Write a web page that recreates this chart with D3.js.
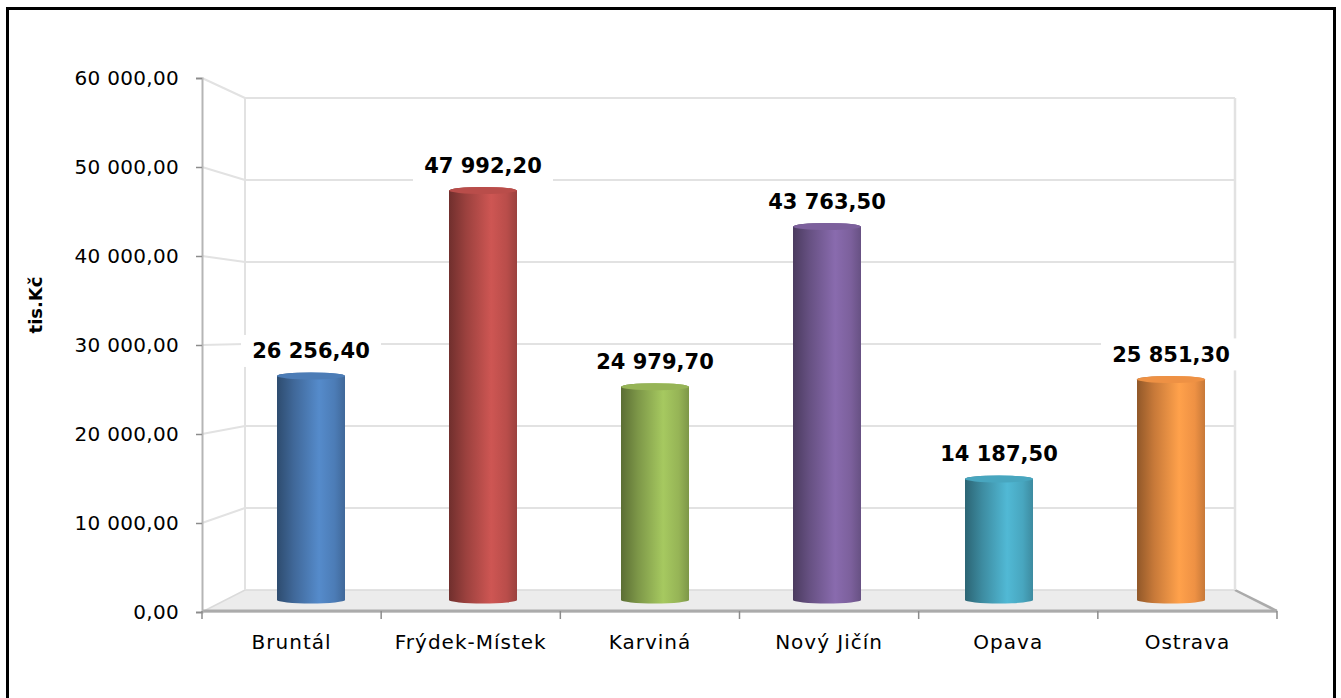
<!DOCTYPE html>
<html>
<head>
<meta charset="utf-8">
<title>tis.Kč podle okresů</title>
<script src="https://cdn.jsdelivr.net/npm/d3@7"></script>
<style>
body { margin: 0; background: #fff; }
svg text { font-family: "DejaVu Sans", sans-serif; fill: #000; }
</style>
</head>
<body>
<div id="chart"></div>
<script>
// data
var districts = ["Bruntál", "Frýdek-Místek", "Karviná", "Nový Jičín", "Opava", "Ostrava"];
var amounts = [26256.40, 47992.20, 24979.70, 43763.50, 14187.50, 25851.30];
var barColors = ["#4F81BD", "#C0504D", "#9BBB59", "#8064A2", "#4BACC6", "#F79646"];
var yTicks = [0, 10000, 20000, 30000, 40000, 50000, 60000];

var W = 1341, H = 698;
var svg = d3.select("#chart").append("svg").attr("width", W).attr("height", H);

// frame
svg.append("rect").attr("x", 7.5).attr("y", 8.5).attr("width", 1327).attr("height", 720)
  .attr("fill", "none").attr("stroke", "#000").attr("stroke-width", 3);

var fmt = function (v) {
  var s = d3.format(",.2f")(v);
  return s.replace(/,/g, " ").replace(".", ",");
};

// three depth planes: front axis, mid (bars) and back wall
var yFront = d3.scaleLinear().domain([0, 60000]).range([612, 78]);
var yBack = d3.scaleLinear().domain([0, 60000]).range([590, 98]);
var yMid = d3.scaleLinear().domain([0, 60000]).range([600, 88]);
var xFront = d3.scaleBand().domain(districts).range([202, 1277]);
var xBack = d3.scaleBand().domain(districts).range([245, 1235]);
var xMid = d3.scaleBand().domain(districts).range([225, 1257]);

var grid = "#e2e2e2";

// floor
var floorPts = [[202, 612], [245, 590], [1235, 590], [1277, 612]];
svg.append("path").attr("d", d3.line()(floorPts) + "Z")
  .attr("fill", "#ececec").attr("stroke", "#dadada").attr("stroke-width", 1.5);
svg.append("line").attr("x1", 202).attr("x2", 1277).attr("y1", 611).attr("y2", 611)
  .attr("stroke", "#ababab").attr("stroke-width", 3);
svg.append("line").attr("x1", 1235).attr("x2", 1277).attr("y1", 590).attr("y2", 611)
  .attr("stroke", "#ababab").attr("stroke-width", 2.5);

// walls
var gl = svg.append("g");
yTicks.filter(function (t) { return t > 0; }).forEach(function (t) {
  gl.append("line").attr("x1", 202).attr("y1", yFront(t)).attr("x2", 245).attr("y2", yBack(t))
    .attr("stroke", grid).attr("stroke-width", 2);
  gl.append("line").attr("x1", 245).attr("y1", yBack(t)).attr("x2", 1235).attr("y2", yBack(t))
    .attr("stroke", grid).attr("stroke-width", 2);
});
gl.append("line").attr("x1", 245).attr("x2", 245).attr("y1", yBack(60000)).attr("y2", yBack(0))
  .attr("stroke", grid).attr("stroke-width", 2);
gl.append("line").attr("x1", 1235).attr("x2", 1235).attr("y1", yBack(60000)).attr("y2", yBack(0))
  .attr("stroke", grid).attr("stroke-width", 2.5);

// value axis
var yAxis = d3.axisLeft(yFront).tickValues(yTicks).tickSize(6).tickPadding(17).tickFormat(fmt);
var ya = svg.append("g").attr("transform", "translate(202,0)").call(yAxis);
ya.select(".domain").attr("stroke", "#b5b5b5").attr("stroke-width", 2);
ya.selectAll(".tick line").attr("stroke", "#8c8c8c").attr("stroke-width", 1.5);
ya.selectAll("text").style("font-size", "20px").style("letter-spacing", "0.3px").attr("fill", "#111");

// category axis
var xa = svg.append("g").attr("transform", "translate(0,612)").call(d3.axisBottom(xFront).tickSize(0).tickPadding(23));
xa.select(".domain").remove();
xa.selectAll("text").style("font-size", "20px").style("letter-spacing", "1px").attr("fill", "#111");
var tickXs = districts.map(function (d) { return xFront(d); }).concat([xFront.range()[1]]);
svg.append("g").selectAll("line").data(tickXs).join("line")
  .attr("x1", function (d) { return d; }).attr("x2", function (d) { return d; })
  .attr("y1", 611).attr("y2", 619).attr("stroke", "#8c8c8c").attr("stroke-width", 1.5);

// gradients for cylinders
var defs = svg.append("defs");
barColors.forEach(function (c, i) {
  var base = d3.color(c);
  var g = defs.append("linearGradient").attr("id", "cyl" + i).attr("x1", "0").attr("x2", "1").attr("y1", "0").attr("y2", "0");
  g.append("stop").attr("offset", "0%").attr("stop-color", base.darker(1.5));
  g.append("stop").attr("offset", "25%").attr("stop-color", base.darker(0.6));
  g.append("stop").attr("offset", "62%").attr("stop-color", base.brighter(0.2));
  g.append("stop").attr("offset", "85%").attr("stop-color", base.darker(0.1));
  g.append("stop").attr("offset", "100%").attr("stop-color", base.darker(0.6));
});

var bw = 68, ry = 3.5;
var bars = svg.append("g").selectAll("g").data(districts).join("g");
bars.append("path")
  .attr("d", function (d, i) {
    var cx = xMid(d) + xMid.bandwidth() / 2;
    var l = cx - bw / 2, r = cx + bw / 2;
    var top = yMid(amounts[i]), bot = yMid(0);
    return "M" + l + "," + top + "L" + l + "," + bot +
      "A" + bw / 2 + "," + ry + " 0 0 0 " + r + "," + bot +
      "L" + r + "," + top +
      "A" + bw / 2 + "," + ry + " 0 0 0 " + l + "," + top + "Z";
  })
  .attr("fill", function (d, i) { return "url(#cyl" + i + ")"; });
bars.append("ellipse")
  .attr("cx", function (d) { return xMid(d) + xMid.bandwidth() / 2; })
  .attr("cy", function (d, i) { return yMid(amounts[i]); })
  .attr("rx", bw / 2).attr("ry", ry)
  .attr("fill", function (d, i) { return d3.color(barColors[i]).darker(0.1); });

// value labels on white boxes
var lab = svg.append("g").selectAll("g").data(districts).join("g")
  .attr("transform", function (d, i) {
    return "translate(" + (xMid(d) + xMid.bandwidth() / 2) + "," + (yMid(amounts[i]) - 25) + ")";
  });
lab.append("rect").attr("x", -70).attr("y", -16).attr("width", 140).attr("height", 32).attr("fill", "#fff");
lab.append("text").attr("text-anchor", "middle").attr("dy", "0.35em")
  .style("font-size", "21px").style("font-weight", "bold")
  .text(function (d, i) { return fmt(amounts[i]); });

// axis title
svg.append("text").attr("transform", "translate(42,305) rotate(-90)").attr("text-anchor", "middle")
  .style("font-size", "18px").style("font-weight", "bold").text("tis.Kč");
</script>
</body>
</html>
